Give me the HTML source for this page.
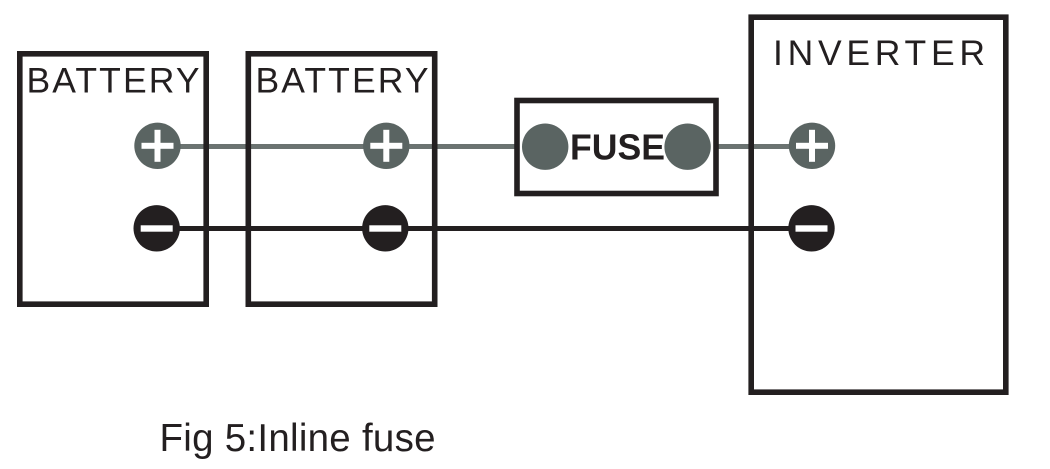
<!DOCTYPE html>
<html>
<head>
<meta charset="utf-8">
<style>
html,body{margin:0;padding:0;background:#fff;width:1050px;height:469px;overflow:hidden}
svg{display:block}
text{font-family:"Liberation Sans",sans-serif;fill:#231f20}
</style>
</head>
<body>
<svg width="1050" height="469" viewBox="0 0 1050 469" xmlns="http://www.w3.org/2000/svg">
<rect width="1050" height="469" fill="#fff"/>
<!-- wires -->
<line x1="157" y1="146.5" x2="516" y2="146.5" stroke="#6b7371" stroke-width="5"/>
<line x1="716" y1="146.5" x2="811" y2="146.5" stroke="#6b7371" stroke-width="5"/>
<line x1="157" y1="228.5" x2="811" y2="228.5" stroke="#231f20" stroke-width="5"/>
<!-- boxes -->
<g fill="none" stroke="#231f20" stroke-width="5.6">
<rect x="19.8" y="53.8" width="186.4" height="250.4"/>
<rect x="248.3" y="53.8" width="186.4" height="250.4"/>
<rect x="517" y="100.5" width="199" height="93"/>
<rect x="751.2" y="17.2" width="254.6" height="375"/>
</g>
<!-- labels -->
<text x="26.5" y="92.7" font-size="35.5" textLength="173" lengthAdjust="spacing">BATTERY</text>
<text x="255.5" y="92.7" font-size="35.5" textLength="173" lengthAdjust="spacing">BATTERY</text>
<text x="773" y="65" font-size="35.5" textLength="212" lengthAdjust="spacing">INVERTER</text>
<text x="570" y="159.5" font-size="36" font-weight="700" textLength="95" lengthAdjust="spacingAndGlyphs">FUSE</text>
<text x="159.5" y="451" font-size="38.5" textLength="276" lengthAdjust="spacing">Fig 5:Inline fuse</text>
<!-- fuse terminals -->
<circle cx="545.2" cy="146.7" r="23.2" fill="#5a6462"/>
<circle cx="687.6" cy="146.7" r="23.2" fill="#5a6462"/>
<!-- plus terminals -->
<g fill="#5a6462">
<circle cx="157.5" cy="145.8" r="23.2"/>
<circle cx="386.3" cy="145.8" r="23.2"/>
<circle cx="812" cy="145.8" r="23.2"/>
</g>
<g fill="#fff">
<rect x="141.5" y="142.8" width="32" height="6"/><rect x="154.5" y="129.8" width="6" height="32"/>
<rect x="370.3" y="142.8" width="32" height="6"/><rect x="383.3" y="129.8" width="6" height="32"/>
<rect x="796" y="142.8" width="32" height="6"/><rect x="809" y="129.8" width="6" height="32"/>
</g>
<!-- minus terminals -->
<g fill="#231f20">
<circle cx="156.7" cy="228.3" r="23.2"/>
<circle cx="385.3" cy="228.3" r="23.2"/>
<circle cx="811.5" cy="228.3" r="23.2"/>
</g>
<g fill="#fff">
<rect x="140.7" y="225.3" width="32" height="6.4"/>
<rect x="369.3" y="225.3" width="32" height="6.4"/>
<rect x="795.5" y="225.3" width="32" height="6.4"/>
</g>
</svg>
</body>
</html>
